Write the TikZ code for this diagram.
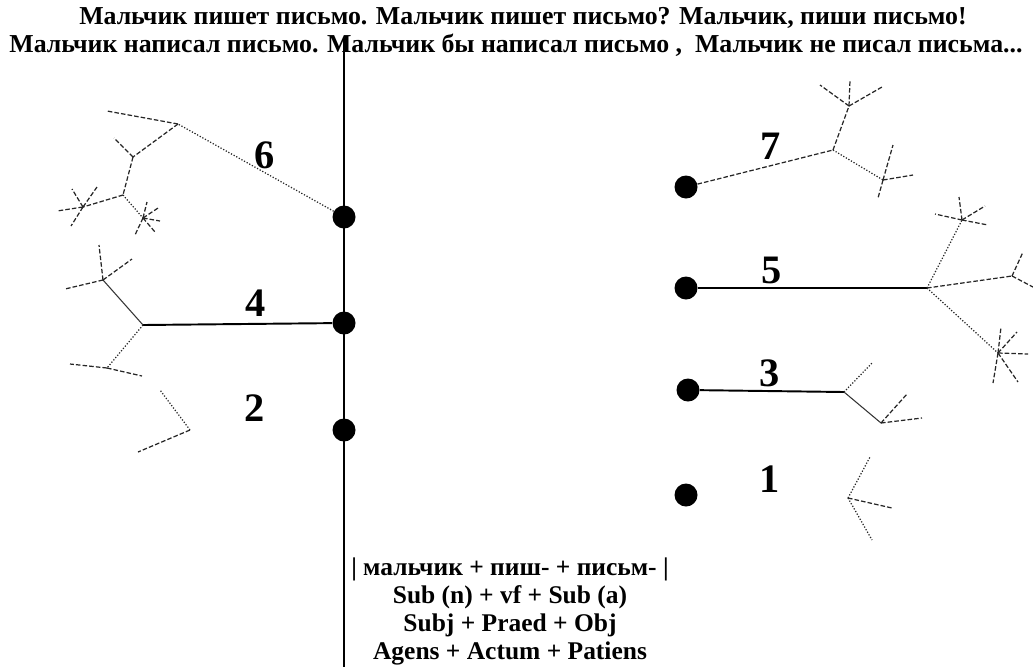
\documentclass[tikz,border=0pt]{standalone}
\usepackage{fontspec}
\setmainfont{Liberation Serif}
\usetikzlibrary{positioning}

% short twigs from one branch point, given as dx/dy in pixels
\newcommand\tuft[2]{\foreach \dx/\dy in {#2} \draw[twig] (#1) -- ++(\dx,\dy);}

\begin{document}
\begin{tikzpicture}[
    x=0.02cm, y=-0.02cm,
    stem/.style={line width=1.1pt, draw=black},
    thinline/.style={line width=0.6pt, draw=black!80},
    fine/.style={line width=0.7pt, densely dotted, draw=black!85},
    twig/.style={line width=0.7pt, dash pattern=on 2.6pt off 1.2pt, draw=black!85},
    dot/.style={circle, fill=black, inner sep=0pt, minimum size=0.46cm},
    num/.style={font=\fontsize{23}{23}\selectfont\bfseries, inner sep=0pt},
    head/.style={font=\fontsize{14.7}{16}\selectfont\bfseries, inner sep=0pt},
    formula/.style={font=\fontsize{14.5}{16}\selectfont\bfseries, align=center, inner sep=0pt}
  ]
  \useasboundingbox (0,0) rectangle (1033,667);

  % sentences on top
  \node[head] (line1) at (523,18) {Мальчик пишет письмо. Мальчик пишет письмо? Мальчик, пиши письмо!};
  \node[head] (line2) at (516,45) {Мальчик написал письмо. Мальчик бы написал письмо , \ Мальчик не писал письма...};

  % the axis
  \coordinate (top) at (344,38);
  \coordinate (foot) at (344,667);
  \draw[stem] (top) -- (foot);

  \node[dot] (d6) at (344,217) {};
  \node[dot] (d4) at (344,323) {};
  \node[dot] (d2) at (344,430) {};
  \node[dot] (d7) at (686,187) {};
  \node[dot] (d5) at (686,288) {};
  \node[dot] (d3) at (688,390) {};
  \node[dot] (d1) at (686,495) {};

  \node[num] (l6) at (265,155) {6};
  \node[num] (l4) at (256,303) {4};
  \node[num] (l2) at (255,408) {2};
  \node[num] (l7) at (771,146) {7};
  \node[num] (l5) at (772,270) {5};
  \node[num] (l3) at (770,373) {3};
  \node[num] (l1) at (770,479) {1};

  % tree 6
  \coordinate (n6) at (178,124);
  \coordinate (n6a) at (133,157);
  \coordinate (n6b) at (123,195);
  \coordinate (n6c) at (83,207);
  \coordinate (n6d) at (143,218);
  \draw[fine] (d6) -- (n6);
  \draw[twig] (n6) -- (n6a);
  \draw[twig] (n6a) -- (n6b);
  \draw[twig] (n6b) -- (n6c);
  \draw[fine] (n6b) -- (n6d);
  \tuft{n6}{-71/-13}
  \tuft{n6a}{-19/-19}
  \tuft{n6c}{-26/4, -11/-18, 14/-20, -12/19}
  \tuft{n6d}{4/-16, 15/-10, 17/3, 12/14, -8/17}

  % tree 4
  \coordinate (n4) at (143,325);
  \coordinate (n4a) at (103,280);
  \coordinate (n4b) at (107,368);
  \draw[stem] (d4) -- (n4);
  \draw[thinline] (n4) -- (n4a);
  \draw[fine] (n4) -- (n4b);
  \tuft{n4a}{-4/-35, 29/-21, -38/9}
  \tuft{n4b}{-37/-4, 35/8}

  % tree 2
  \coordinate (n2) at (190,430);
  \draw[fine] (n2) -- ++(-30,-40);
  \tuft{n2}{-52/22}

  % tree 7
  \coordinate (n7) at (833,150);
  \coordinate (n7a) at (849,106);
  \coordinate (n7b) at (883,180);
  \draw[twig] (d7) -- (n7);
  \draw[twig] (n7) -- (n7a);
  \draw[fine] (n7) -- (n7b);
  \tuft{n7a}{1/-26, -29/-21, 33/-19}
  \tuft{n7b}{10/-35, 30/-5, -5/18}

  % tree 5
  \coordinate (n5) at (927,288);
  \coordinate (n5a) at (962,220);
  \coordinate (n5b) at (1012,276);
  \coordinate (n5c) at (998,353);
  \draw[stem] (d5) -- (n5);
  \draw[fine] (n5) -- (n5a);
  \draw[twig] (n5) -- (n5b);
  \draw[fine] (n5) -- (n5c);
  \tuft{n5a}{-27/-6, -3/-23, 23/-14, 26/5}
  \tuft{n5b}{11/-24, 21/11}
  \tuft{n5c}{3/-26, 19/-21, 30/1, 20/29, -5/30}

  % tree 3
  \coordinate (n3) at (844,392);
  \coordinate (n3a) at (881,423);
  \draw[stem] (d3) -- (n3);
  \draw[fine] (n3) -- ++(29,-30);
  \draw[thinline] (n3) -- (n3a);
  \tuft{n3a}{26/-29, 41/-5}

  % tree 1
  \coordinate (n1) at (848,498);
  \draw[fine] (n1) -- ++(22,-41);
  \tuft{n1}{44/10}
  \draw[fine] (n1) -- ++(24,42);

  % formulas under the root
  \node[formula, anchor=north] (roots) at (510,557) {| мальчик + пиш- + письм- |\\ Sub (n) + vf + Sub (a)\\ Subj + Praed + Obj\\ Agens + Actum + Patiens};
\end{tikzpicture}
\end{document}
